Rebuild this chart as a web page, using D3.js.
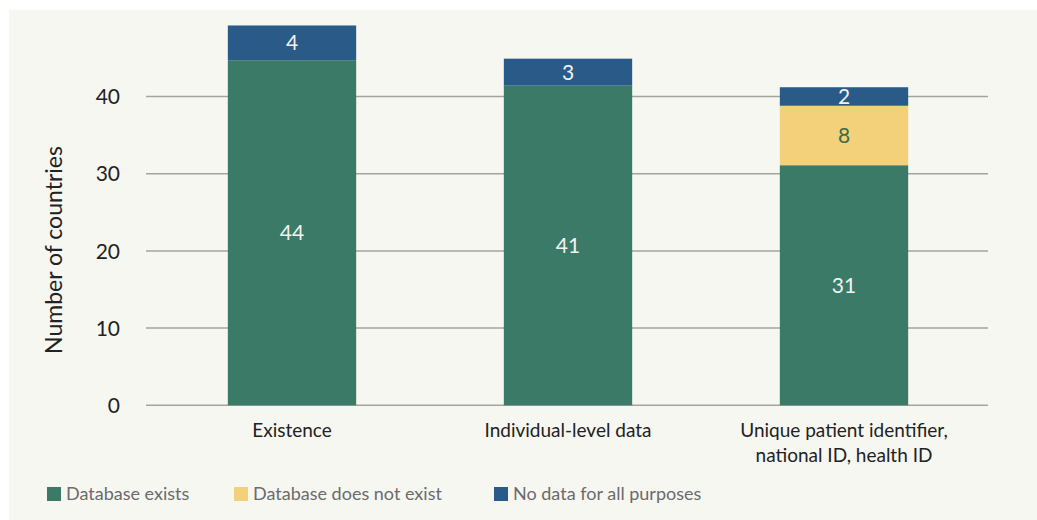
<!DOCTYPE html>
<html>
<head>
<meta charset="utf-8">
<script src="https://cdn.jsdelivr.net/npm/d3@7"></script>
<style>
  html, body { margin: 0; padding: 0; background: #ffffff; }
  svg { display: block; font-family: Lato, "Open Sans", sans-serif; }
</style>
</head>
<body>
<svg id="chart" width="1037" height="520"></svg>
<script>
// ---- data ----
const categories = ["Existence", "Individual-level data", "Unique patient identifier, national ID, health ID"];
const categoryLines = [["Existence"], ["Individual-level data"], ["Unique patient identifier,", "national ID, health ID"]];
const seriesNames = ["Database exists", "Database does not exist", "No data for all purposes"];
// bar segment heights as drawn against the axis
const dbExists = [44.7, 41.4, 31.1];
const dbNotExist = [0, 0, 7.7];
const noData = [4.5, 3.5, 2.4];
// printed data labels
const dbExistsLabels = ["44", "41", "31"];
const dbNotExistLabels = ["", "", "8"];
const noDataLabels = ["4", "3", "2"];
const yTicks = [0, 10, 20, 30, 40];

const colors = ["#3a7a67", "#f3d17a", "#2a5b88"];
const labelColors = ["#f2f2f2", "#3b6a4a", "#f2f2f2"];

const svg = d3.select("#chart");
const W = 1037, H = 520;

// panel background
svg.append("rect").attr("x", 9).attr("y", 10).attr("width", W - 9).attr("height", H - 10)
  .attr("fill", "#f7f7f2");

const gridX0 = 146, gridX1 = 988;
const x = d3.scaleBand().domain(categories).range([154, 982]).paddingInner(0.535).paddingOuter(0.2675);
const y = d3.scaleLinear().domain([0, 50]).range([405.3, 19.3]);

// gridlines
svg.append("g").selectAll("line").data(yTicks).join("line")
  .attr("x1", gridX0).attr("x2", gridX1)
  .attr("y1", d => y(d)).attr("y2", d => y(d))
  .attr("stroke", "#a3a3a0").attr("stroke-width", 1.5);

// y axis tick labels
const yAxis = d3.axisLeft(y).tickValues(yTicks).tickSize(0).tickPadding(0);
const yg = svg.append("g").attr("transform", "translate(120,0)").call(yAxis);
yg.select(".domain").remove();
yg.selectAll("text").attr("font-size", 21).attr("fill", "#222").attr("font-family", "Lato, sans-serif").attr("dy", "0.34em");

// y axis title
svg.append("text").attr("transform", "translate(62,250) rotate(-90)")
  .attr("text-anchor", "middle").attr("font-size", 23).attr("fill", "#222")
  .text("Number of countries");

// stacked data
const rows = categories.map((c, i) => ({ cat: c, s0: dbExists[i], s1: dbNotExist[i], s2: noData[i] }));
const stack = d3.stack().keys(["s0", "s1", "s2"]);
const stacked = stack(rows);
const labels = [dbExistsLabels, dbNotExistLabels, noDataLabels];

const groups = svg.append("g").selectAll("g").data(stacked).join("g")
  .attr("fill", (d, i) => colors[i]);
groups.selectAll("rect").data(d => d.filter(s => s[1] - s[0] > 0)).join("rect")
  .attr("x", d => x(d.data.cat))
  .attr("width", x.bandwidth())
  .attr("y", d => y(d[1]))
  .attr("height", d => y(d[0]) - y(d[1]));

// segment labels
stacked.forEach((layer, li) => {
  layer.forEach((seg, ci) => {
    const txt = labels[li][ci];
    if (!txt) return;
    svg.append("text")
      .attr("x", x(seg.data.cat) + x.bandwidth() / 2)
      .attr("y", (y(seg[0]) + y(seg[1])) / 2)
      .attr("dy", "0.36em")
      .attr("text-anchor", "middle")
      .attr("font-size", 21)
      .attr("fill", labelColors[li])
      .text(txt);
  });
});

// category labels
const xg = svg.append("g");
categories.forEach((c, i) => {
  const t = xg.append("text").attr("x", x(c) + x.bandwidth() / 2).attr("y", 437)
    .attr("text-anchor", "middle").attr("font-size", 19).attr("fill", "#222");
  categoryLines[i].forEach((line, li) => {
    t.append("tspan").attr("x", x(c) + x.bandwidth() / 2).attr("dy", li === 0 ? 0 : 25).text(line);
  });
});

// legend
const legendX = [47, 234, 494];
const lg = svg.append("g");
seriesNames.forEach((n, i) => {
  lg.append("rect").attr("x", legendX[i]).attr("y", 487).attr("width", 14).attr("height", 14).attr("fill", colors[i]);
  lg.append("text").attr("x", legendX[i] + 19).attr("y", 494).attr("dy", "0.35em")
    .attr("font-size", 18).attr("fill", "#6b6b6b").text(n);
});
</script>
</body>
</html>
